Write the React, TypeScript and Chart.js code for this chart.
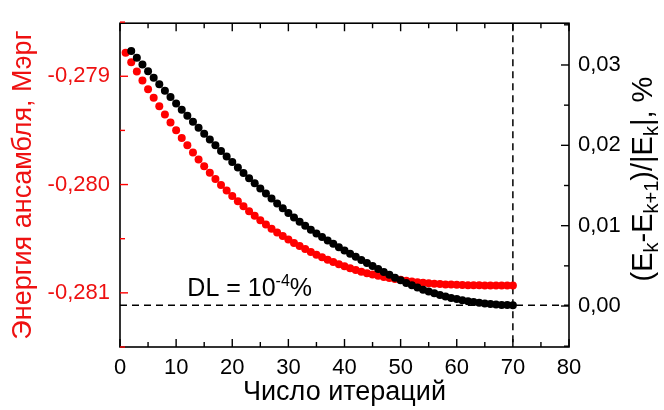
import React, { useEffect, useRef } from 'react';
import { Chart, registerables } from 'chart.js';

Chart.register(...registerables);

const FONT = "'Liberation Sans', Arial, sans-serif";
const RED = '#ff0000';
const RED_TEXT = '#ee1111';

// Iteration numbers (categories)
const iterations = Array.from({ length: 70 }, (_, i) => i + 1);

// Ensemble energy, MErg (left axis)
const energyValues = [
  -0.278783, -0.278870, -0.278955, -0.279038, -0.279119, -0.279199, -0.279277, -0.279352, -0.279427, -0.279499,
  -0.279569, -0.279638, -0.279704, -0.279769, -0.279831, -0.279890, -0.279948, -0.280003, -0.280056, -0.280106,
  -0.280155, -0.280201, -0.280246, -0.280289, -0.280330, -0.280369, -0.280407, -0.280442, -0.280476, -0.280508,
  -0.280539, -0.280568, -0.280596, -0.280623, -0.280648, -0.280672, -0.280695, -0.280716, -0.280736, -0.280755,
  -0.280772, -0.280789, -0.280804, -0.280818, -0.280831, -0.280842, -0.280853, -0.280863, -0.280872, -0.280880,
  -0.280888, -0.280895, -0.280901, -0.280907, -0.280911, -0.280915, -0.280919, -0.280922, -0.280924, -0.280926,
  -0.280927, -0.280929, -0.280930, -0.280930, -0.280931, -0.280931, -0.280932, -0.280932, -0.280932, -0.280932,
];

// Relative energy change, % (right axis); no value for iteration 1
const relDiffValues = [
  null, 0.03175, 0.03090, 0.03006, 0.02923, 0.02840, 0.02759, 0.02679, 0.02600, 0.02521,
  0.02444, 0.02367, 0.02292, 0.02218, 0.02144, 0.02072, 0.02000, 0.01929, 0.01860, 0.01791,
  0.01724, 0.01657, 0.01591, 0.01527, 0.01463, 0.01400, 0.01338, 0.01277, 0.01218, 0.01159,
  0.01102, 0.01049, 0.00998, 0.00949, 0.00903, 0.00859, 0.00816, 0.00774, 0.00733, 0.00692,
  0.00652, 0.00613, 0.00574, 0.00535, 0.00498, 0.00460, 0.00424, 0.00388, 0.00353, 0.00320,
  0.00288, 0.00259, 0.00231, 0.00204, 0.00180, 0.00158, 0.00137, 0.00118, 0.00101, 0.00086,
  0.00072, 0.00060, 0.00049, 0.00040, 0.00031, 0.00024, 0.00018, 0.00014, 0.00012, 0.00010,
];

const xMajorTicks = [0, 10, 20, 30, 40, 50, 60, 70, 80];
const xMinorTicks = [5, 15, 25, 35, 45, 55, 65, 75];
const leftMajorTicks = [-0.281, -0.280, -0.279];
const leftMinorTicks = [-0.2815, -0.2805, -0.2795, -0.2785];
const rightMajorTicks = [0, 0.01, 0.02, 0.03];
const rightMinorTicks = [-0.005, 0.005, 0.015, 0.025, 0.035];

const xRange = [0, 80];
const leftRange = [-0.2815, -0.27851];
const rightRange = [-0.0051, 0.0352];

const dlLevel = 0.0001;
const convergedIteration = 70;
const dlLabelIteration = 12;

const xTitle = 'Число итераций';
const leftTitle = 'Энергия ансамбля, Мэрг';

const decorPlugin = {
  id: 'decor',
  beforeDatasetsDraw(chart: any) {
    const { ctx, chartArea } = chart;
    const xs = chart.scales.x;
    const yr = chart.scales.yR;
    ctx.save();
    ctx.strokeStyle = '#000';
    ctx.lineWidth = 1.5;
    ctx.setLineDash([7, 5]);
    const yDl = yr.getPixelForValue(dlLevel);
    ctx.beginPath();
    ctx.moveTo(chartArea.left, yDl);
    ctx.lineTo(chartArea.right, yDl);
    ctx.stroke();
    const xc = xs.getPixelForValue(convergedIteration);
    ctx.beginPath();
    ctx.moveTo(xc, chartArea.top);
    ctx.lineTo(xc, chartArea.bottom);
    ctx.stroke();
    ctx.setLineDash([]);

    // DL label
    const lx = xs.getPixelForValue(dlLabelIteration);
    const ly = yDl - 9;
    ctx.fillStyle = '#000';
    ctx.textBaseline = 'alphabetic';
    ctx.textAlign = 'left';
    ctx.font = `25px ${FONT}`;
    const main = 'DL = 10';
    ctx.fillText(main, lx, ly);
    let cx = lx + ctx.measureText(main).width;
    ctx.font = `16px ${FONT}`;
    const sup = '-4';
    ctx.fillText(sup, cx, ly - 10);
    cx += ctx.measureText(sup).width;
    ctx.font = `25px ${FONT}`;
    ctx.fillText('%', cx, ly);
    ctx.restore();
  },
  afterDraw(chart: any) {
    const { ctx, chartArea } = chart;
    const { left, right, top, bottom } = chartArea;
    const xs = chart.scales.x;
    const yl = chart.scales.yL;
    const yr = chart.scales.yR;
    ctx.save();
    ctx.lineWidth = 1.6;
    ctx.strokeStyle = '#000';
    ctx.strokeRect(left, top, right - left, bottom - top);

    const major = 8;
    const minor = 5;
    ctx.lineWidth = 1.4;
    const hTick = (v: number, len: number) => {
      const px = xs.getPixelForValue(v);
      ctx.beginPath();
      ctx.moveTo(px, bottom);
      ctx.lineTo(px, bottom - len);
      ctx.moveTo(px, top);
      ctx.lineTo(px, top + len);
      ctx.stroke();
    };
    xMajorTicks.forEach((v) => hTick(v, major));
    xMinorTicks.forEach((v) => hTick(v, minor));

    ctx.strokeStyle = RED;
    const lTick = (v: number, len: number) => {
      const py = yl.getPixelForValue(v);
      ctx.beginPath();
      ctx.moveTo(left, py);
      ctx.lineTo(left + len, py);
      ctx.stroke();
    };
    leftMajorTicks.forEach((v) => lTick(v, major));
    leftMinorTicks.forEach((v) => lTick(v, minor));

    ctx.strokeStyle = '#000';
    const rTick = (v: number, len: number) => {
      const py = yr.getPixelForValue(v);
      ctx.beginPath();
      ctx.moveTo(right, py);
      ctx.lineTo(right - len, py);
      ctx.stroke();
    };
    rightMajorTicks.forEach((v) => rTick(v, major));
    rightMinorTicks.forEach((v) => rTick(v, minor));

    // Right axis title with subscripts
    const parts: [string, boolean][] = [
      ['(E', false], ['k', true], ['-E', false], ['k+1', true], [')/|E', false], ['k', true], ['|, %', false],
    ];
    const mainFont = `29px ${FONT}`;
    const subFont = `20px ${FONT}`;
    let total = 0;
    parts.forEach(([t, s]) => {
      ctx.font = s ? subFont : mainFont;
      total += ctx.measureText(t).width;
    });
    const cy = (top + bottom) / 2 - 6;
    ctx.translate(652, cy);
    ctx.rotate(-Math.PI / 2);
    ctx.fillStyle = '#000';
    ctx.textBaseline = 'alphabetic';
    ctx.textAlign = 'left';
    let x = -total / 2;
    parts.forEach(([t, s]) => {
      ctx.font = s ? subFont : mainFont;
      ctx.fillText(t, x, s ? 6 : 0);
      x += ctx.measureText(t).width;
    });
    ctx.restore();
  },
};

export default function App() {
  const canvasRef = useRef<HTMLCanvasElement | null>(null);

  useEffect(() => {
    if (!canvasRef.current) return;
    const chart = new Chart(canvasRef.current, {
      type: 'scatter',
      data: {
        datasets: [
          {
            label: 'rel',
            data: iterations.map((k, i) => ({ x: k, y: relDiffValues[i] as any })),
            yAxisID: 'yR',
            backgroundColor: '#000',
            borderColor: '#000',
            pointRadius: 4,
            pointBorderWidth: 0,
            showLine: false,
          },
          {
            label: 'energy',
            data: iterations.map((k, i) => ({ x: k, y: energyValues[i] })),
            yAxisID: 'yL',
            backgroundColor: RED,
            borderColor: RED,
            pointRadius: 4,
            pointBorderWidth: 0,
            showLine: false,
          },
        ],
      },
      options: {
        animation: false,
        responsive: false,
        maintainAspectRatio: false,
        layout: { padding: { top: 16, left: 0, right: 0, bottom: 0 } },
        plugins: { legend: { display: false }, tooltip: { enabled: false } },
        scales: {
          x: {
            type: 'linear',
            position: 'bottom',
            min: xRange[0],
            max: xRange[1],
            grid: { display: false, drawTicks: false },
            border: { display: false },
            ticks: { font: { family: FONT, size: 22 }, color: '#000', padding: 8, maxRotation: 0 },
            afterBuildTicks: (s: any) => { s.ticks = xMajorTicks.map((v) => ({ value: v })); },
            afterFit: (s: any) => { s.height = 63; },
            title: { display: true, text: xTitle, color: '#000', font: { family: FONT, size: 27 }, padding: { top: 0, bottom: 1 } },
          },
          yL: {
            type: 'linear',
            position: 'left',
            min: leftRange[0],
            max: leftRange[1],
            grid: { display: false, drawTicks: false },
            border: { display: false },
            ticks: {
              font: { family: FONT, size: 22 },
              color: RED_TEXT,
              padding: 10,
              callback: (v: any) => Number(v).toFixed(3).replace('.', ','),
            },
            afterBuildTicks: (s: any) => { s.ticks = leftMajorTicks.map((v) => ({ value: v })); },
            afterFit: (s: any) => { s.width = 120; },
            title: { display: true, text: leftTitle, color: RED_TEXT, font: { family: FONT, size: 27 }, padding: { top: 7, bottom: 0 } },
          },
          yR: {
            type: 'linear',
            position: 'right',
            min: rightRange[0],
            max: rightRange[1],
            grid: { display: false, drawTicks: false },
            border: { display: false },
            ticks: {
              font: { family: FONT, size: 22 },
              color: '#000',
              padding: 9,
              callback: (v: any) => Number(v).toFixed(2).replace('.', ','),
            },
            afterBuildTicks: (s: any) => { s.ticks = rightMajorTicks.map((v) => ({ value: v })); },
            afterFit: (s: any) => { s.width = 95; },
          },
        },
      } as any,
      plugins: [decorPlugin],
    });
    return () => chart.destroy();
  }, []);

  return (
    <div style={{ position: 'absolute', left: 0, top: 0, width: 664, height: 410, background: '#fff' }}>
      <canvas ref={canvasRef} width={664} height={410} />
    </div>
  );
}
